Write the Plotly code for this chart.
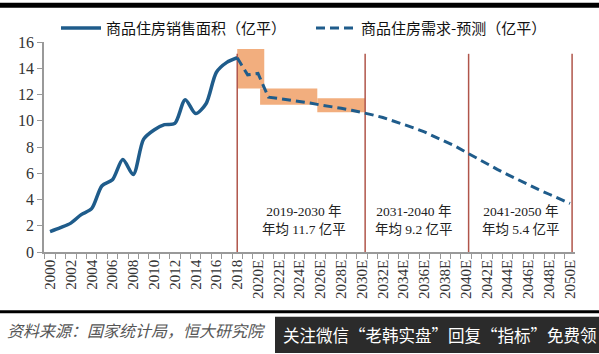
import plotly.graph_objects as go

# ---- data ----
years_actual = list(range(2000, 2019))
sales_actual = [1.55, 1.85, 2.2, 2.85, 3.3, 5.05, 5.5, 7.05, 5.9, 8.6, 9.3,
                9.7, 9.8, 11.6, 10.55, 11.3, 13.7, 14.45, 14.8]

years_fc = list(range(2018, 2051))
demand_fc = [14.8, 13.5, 13.6, 11.8, 11.7, 11.6, 11.5, 11.35, 11.2, 11.1, 10.95,
             10.8, 10.65, 10.45, 10.25, 10.0, 9.75, 9.45, 9.15, 8.8, 8.45, 8.05,
             7.6, 7.15, 6.75, 6.3, 5.9, 5.5, 5.1, 4.75, 4.4, 4.05, 3.7]

tick_years = list(range(2000, 2051, 2))
tick_labels = [str(y) if y <= 2018 else f"{y}E" for y in tick_years]
minor_ticks = [y + 0.5 for y in range(1999, 2051)]

# orange range boxes: (x0, x1, y_low, y_high)
box_x0 = [2018.0, 2020.2, 2025.7]
box_x1 = [2020.6, 2025.7, 2030.3]
box_y0 = [12.46, 11.22, 10.65]
box_y1 = [15.47, 12.46, 11.72]

divider_x = [2018.0, 2030.3, 2040.25, 2050.2]
divider_top = 15.1

period_x = [2024.4, 2035.0, 2045.3]
period_text = ["2019-2030 年<br>年均 11.7 亿平",
               "2031-2040 年<br>年均 9.2 亿平",
               "2041-2050 年<br>年均 5.4 亿平"]

LINE_COLOR = "#1F5C8B"
SERIF = "Liberation Serif, Noto Sans CJK SC, serif"
CJK = "Noto Sans CJK SC, sans-serif"
PH = 214.0  # plot height px
PW = 531.0  # plot width px

fig = go.Figure()

fig.add_trace(go.Scatter(
    x=years_actual, y=sales_actual, mode="lines",
    line=dict(color=LINE_COLOR, width=3.5, shape="spline", smoothing=0.8),
    name="商品住房销售面积（亿平）"))
fig.add_trace(go.Scatter(
    x=years_fc, y=demand_fc, mode="lines",
    line=dict(color=LINE_COLOR, width=3, dash="9px,5px"),
    name="商品住房需求-预测（亿平）"))

shapes = []
for x0, x1, y0, y1 in zip(box_x0, box_x1, box_y0, box_y1):
    shapes.append(dict(type="rect", xref="x", yref="y", x0=x0, x1=x1, y0=y0, y1=y1,
                       fillcolor="#F2AE7E", line=dict(width=0), layer="below"))
for dx in divider_x:
    shapes.append(dict(type="line", xref="x", yref="y", x0=dx, x1=dx, y0=0, y1=divider_top,
                       line=dict(color="#B0554A", width=1.5), layer="below"))
# black rules
shapes.append(dict(type="rect", xref="paper", yref="paper", x0=-1, x1=2,
                   y0=1 + 35 / PH, y1=1 + 40 / PH, fillcolor="black", line=dict(width=0)))
shapes.append(dict(type="line", xref="paper", yref="paper", x0=-1, x1=2,
                   y0=-61 / PH, y1=-61 / PH, line=dict(color="black", width=3)))
# dark footer banner
shapes.append(dict(type="rect", xref="paper", yref="paper", x0=231 / PW, x1=2,
                   y0=-103 / PH, y1=-66 / PH, fillcolor="#2B2B2B", line=dict(width=0)))

annotations = []
for px, t in zip(period_x, period_text):
    annotations.append(dict(x=px, y=2.41, xref="x", yref="y", text=t, showarrow=False,
                            font=dict(family=SERIF, size=13.5, color="#222")))
annotations.append(dict(x=-39 / PW, y=-79 / PH, xref="paper", yref="paper",
                        xanchor="left", yanchor="middle", showarrow=False,
                        text="<i>资料来源：国家统计局，恒大研究院</i>",
                        font=dict(family=CJK, size=16, color="#555")))
annotations.append(dict(x=237 / PW, y=-85 / PH, xref="paper", yref="paper",
                        xanchor="left", yanchor="middle", showarrow=False,
                        text="关注微信“老韩实盘”回复“指标”免费领",
                        font=dict(family=CJK, size=16.5, color="white")))

fig.update_layout(
    width=599, height=354,
    margin=dict(l=44, r=24, t=38, b=102),
    plot_bgcolor="white", paper_bgcolor="white",
    shapes=shapes, annotations=annotations,
    showlegend=True,
    legend=dict(orientation="h", x=12 / PW, y=1 + 14 / PH, xanchor="left", yanchor="middle",
                font=dict(family=CJK, size=15, color="#111"),
                entrywidth=200, entrywidthmode="pixels",
                bgcolor="rgba(0,0,0,0)", itemwidth=40),
    xaxis=dict(range=[1999.42, 2050.48], tickmode="array", tickvals=tick_years,
               ticktext=tick_labels, tickangle=-90, ticks="", showgrid=False,
               zeroline=False, showline=True, linecolor="#999", linewidth=1.5,
               tickfont=dict(family=SERIF, size=15, color="#333"),
               minor=dict(tickmode="array", tickvals=minor_ticks, ticks="outside",
                          ticklen=5, tickcolor="#999", tickwidth=1, showgrid=False)),
    yaxis=dict(range=[0, 16], tickvals=list(range(0, 17, 2)), ticks="outside",
               ticklen=5, tickcolor="#999", showgrid=False, zeroline=False,
               showline=True, linecolor="#999", linewidth=1.5,
               tickfont=dict(family=SERIF, size=16, color="#333")),
)

fig.write_html("out.html")
